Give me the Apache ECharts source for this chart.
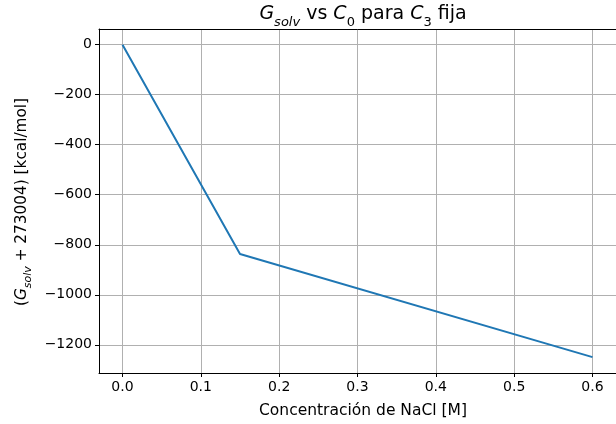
<!DOCTYPE html>
<html><head><meta charset="utf-8">
<script src="https://cdn.jsdelivr.net/npm/echarts@6/dist/echarts.min.js"></script>
<style>html,body{margin:0;padding:0;background:#fff}#c{width:616px;height:424px}</style>
</head><body><div id="c"></div>
<script>
const concentrations = [0.0, 0.15, 0.6];
const gSolv = [0, -837, -1249];

const chart = echarts.init(document.getElementById('c'), null, {renderer: 'canvas'});
const FONT = 'DejaVu Sans';
const richBase = {
  n: {fontFamily: FONT, fontSize: 19, color: '#000', lineHeight: 30},
  gi: {fontFamily: FONT, fontSize: 19, fontStyle: 'italic', color: '#000', lineHeight: 30},
  sub: {fontFamily: FONT, fontSize: 13, color: '#000', lineHeight: 30, verticalAlign: 'bottom'},
  subi: {fontFamily: FONT, fontSize: 13, fontStyle: 'italic', color: '#000', lineHeight: 30, verticalAlign: 'bottom'}
};
const richY = {
  n: {fontFamily: FONT, fontSize: 15.3, color: '#000', lineHeight: 24},
  gi: {fontFamily: FONT, fontSize: 15.3, fontStyle: 'italic', color: '#000', lineHeight: 24},
  subi: {fontFamily: FONT, fontSize: 11, fontStyle: 'italic', color: '#000', lineHeight: 24, verticalAlign: 'bottom'}
};
const tickFont = {fontFamily: FONT, fontSize: 14, color: '#000'};
chart.setOption({
  animation: false,
  grid: {left: 99, top: 29, width: 528, height: 344, containLabel: false},
  xAxis: [{
    type: 'value', min: -0.03, max: 0.63,
    axisLine: {show: true, onZero: false, lineStyle: {color: '#000', width: 1}},
    axisTick: {show: true, inside: false, length: 4, lineStyle: {color: '#000'}},
    axisLabel: Object.assign({margin: 7, showMinLabel: false, showMaxLabel: false,
      formatter: v => v.toFixed(1)}, tickFont),
    splitLine: {show: true, lineStyle: {color: '#b0b0b0', width: 1}}
  }, {
    type: 'value', position: 'top', min: -0.03, max: 0.63,
    axisLine: {show: true, onZero: false, lineStyle: {color: '#000', width: 1}},
    axisTick: {show: false}, axisLabel: {show: false}, splitLine: {show: false}
  }],
  yAxis: {
    type: 'value', min: -1312.5, max: 62.5, splitNumber: 7,
    axisLine: {show: true, onZero: false, lineStyle: {color: '#000', width: 1}},
    axisTick: {show: true, inside: false, length: 4, lineStyle: {color: '#000'}},
    axisLabel: Object.assign({margin: 7, showMinLabel: false, showMaxLabel: false,
      formatter: v => (v < 0 ? '\u2212' + Math.abs(v) : String(v))}, tickFont),
    splitLine: {show: true, lineStyle: {color: '#b0b0b0', width: 1}}
  },
  series: [{
    type: 'line', xAxisIndex: 0,
    data: concentrations.map((c, i) => [c, gSolv[i]]),
    showSymbol: false, symbol: 'none',
    lineStyle: {color: '#1f77b4', width: 2}
  }],
  graphic: [
    {type: 'text', x: 363, y: 14, style: {
      text: '{gi|G}{subi|solv}{n| vs }{gi|C}{sub|0}{n| para }{gi|C}{sub|3}{n| fija}',
      rich: richBase, align: 'center', verticalAlign: 'middle'}},
    {type: 'text', x: 363, y: 411, style: {
      text: 'Concentración de NaCl [M]', fontFamily: FONT, fontSize: 15.5, fill: '#000',
      align: 'center', verticalAlign: 'middle'}},
    {type: 'text', x: 22, y: 202, rotation: Math.PI / 2, style: {
      text: '{n|(}{gi|G}{subi|solv}{n| + 273004) [kcal/mol]}',
      rich: richY, align: 'center', verticalAlign: 'middle'}}
  ]
});
</script></body></html>
